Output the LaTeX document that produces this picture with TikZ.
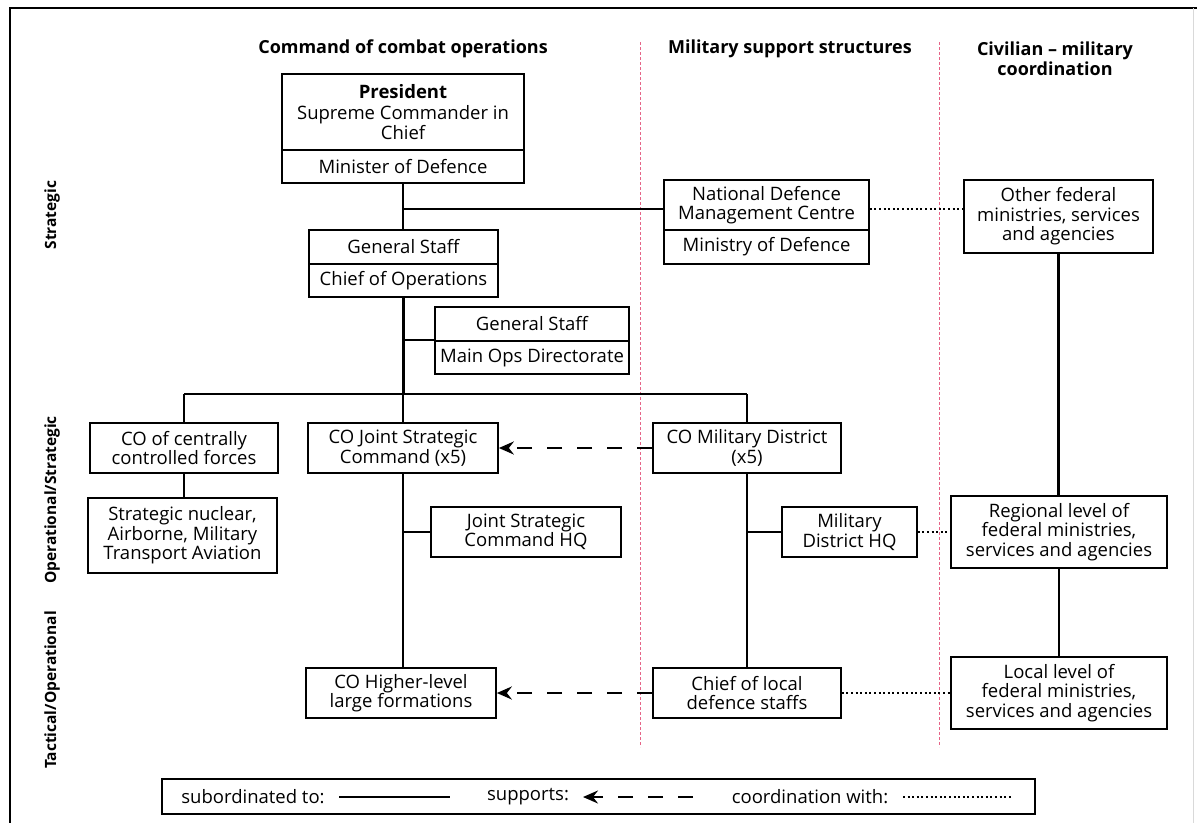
\documentclass[tikz,border=0pt]{standalone}
\usepackage{fontspec}
\setmainfont{Open Sans}
\usetikzlibrary{arrows.meta,calc}
\definecolor{sepcol}{RGB}{230,100,135}
\begin{document}
\begin{tikzpicture}[x=1pt,y=-1pt,
  txt/.style={font=\fontsize{18.5}{19.5}\selectfont, align=center, inner sep=0pt},
  box/.style={txt, draw, line width=1.7pt},
  head/.style={font=\fontsize{18}{19.5}\selectfont\bfseries, align=center, inner sep=0pt},
  lev/.style={font=\fontsize{15.5}{18}\selectfont\bfseries, inner sep=0pt, rotate=90},
  sub/.style={line width=2.6pt},
  sup/.style={line width=2.6pt, dash pattern=on 15pt off 15pt, -{Stealth[length=15pt,width=13pt,inset=5pt]}},
  coordl/.style={line width=2.2pt, dash pattern=on 2pt off 2.6pt},
  sep/.style={draw=sepcol, line width=1.1pt, dash pattern=on 3pt off 2pt},
]
\useasboundingbox (0,0) rectangle (1197,823);
\fill[white] (0,0) rectangle (1197,823);
% frame
\draw[line width=1.4pt] (1197,8) -- (10,8) -- (10,823);
\draw[black!15, line width=1pt] (1193,8) -- (1193,823);
% separators
\draw[sep] (640.5,42) -- (640.5,747);
\draw[sep] (939.5,42) -- (939.5,747);
% headers
\node[head] (h1) at (403,49) {Command of combat operations};
\node[head] (h2) at (790,49) {Military support structures};
\node[head] (h3) at (1055,58.5) {Civilian -- military\\coordination};
% level labels
\node[lev] (l1) at (52,215) {Strategic};
\node[lev] (l2) at (52,500) {Operational/Strategic};
\node[lev] (l3) at (52,690) {Tactical/Operational};
% boxes
\node[box, minimum width=242pt, minimum height=76pt] (pres1) at (403,112) {\textbf{President}\\[2pt]Supreme Commander in\\Chief};
\node[box, minimum width=242pt, minimum height=33pt] (pres2) at (403,166.5) {Minister of Defence};
\node[box, minimum width=189pt, minimum height=34pt] (gs1) at (403.5,247) {General Staff};
\node[box, minimum width=189pt, minimum height=33pt] (gs2) at (403.5,280.5) {Chief of Operations};
\node[box, minimum width=194pt, minimum height=34pt] (mo1) at (532,324) {General Staff};
\node[box, minimum width=194pt, minimum height=33pt] (mo2) at (532,357.5) {Main Ops Directorate};
\node[box, minimum width=205pt, minimum height=50pt] (ndmc1) at (766.5,205) {National Defence\\Management Centre};
\node[box, minimum width=205pt, minimum height=34pt] (ndmc2) at (766.5,247) {Ministry of Defence};
\node[box, minimum width=189pt, minimum height=73pt] (other) at (1058.5,216.5) {Other federal\\ministries, services\\and agencies};
\node[box, minimum width=188pt, minimum height=50pt] (ccf) at (184,448) {CO of centrally\\controlled forces};
\node[box, minimum width=189pt, minimum height=75pt] (snuc) at (182.5,535.5) {Strategic nuclear,\\Airborne, Military\\Transport Aviation};
\node[box, minimum width=190pt, minimum height=50pt] (cojsc) at (403,448) {CO Joint Strategic\\Command (x5)};
\node[box, minimum width=190pt, minimum height=50pt] (jschq) at (526,532) {Joint Strategic\\Command HQ};
\node[box, minimum width=190pt, minimum height=50pt] (cohl) at (401,693) {CO Higher-level\\large formations};
\node[box, minimum width=188pt, minimum height=50pt] (comd) at (747,448) {CO Military District\\(x5)};
\node[box, minimum width=135pt, minimum height=50pt] (mdhq) at (849.5,532) {Military\\District HQ};
\node[box, minimum width=188pt, minimum height=50pt] (chief) at (747,693) {Chief of local\\defence staffs};
\node[box, minimum width=216pt, minimum height=72pt] (regional) at (1059,532) {Regional level of\\federal ministries,\\services and agencies};
\node[box, minimum width=216pt, minimum height=72pt] (local) at (1059,693) {Local level of\\federal ministries,\\services and agencies};
% junctions
\coordinate (j1) at (403,209);
\coordinate (bus) at (403,394);
% connectors
\draw[sub] (pres2.south) -- (pres2.south |- gs1.north);
\draw[sub] (j1) -- (j1 -| ndmc1.west);
\draw[coordl] (j1 -| ndmc1.east) -- (j1 -| other.west);
\draw[sub] (gs2.south) -- (gs2.south |- bus);
\draw[sub] (gs2.south |- mo2.north west) -- (mo2.north west);
\draw[sub] (ccf.north |- bus) -- (comd.north |- bus);
\draw[sub] (ccf.north |- bus) -- (ccf.north);
\draw[sub] (cojsc.north |- bus) -- (cojsc.north);
\draw[sub] (comd.north |- bus) -- (comd.north);
\draw[sub] (ccf.south) -- (ccf.south |- snuc.north);
\draw[sub] (cojsc.south) -- (cojsc.south |- cohl.north);
\draw[sub] (cojsc.south |- jschq.west) -- (jschq.west);
\draw[sub] (comd.south) -- (comd.south |- chief.north);
\draw[sub] (comd.south |- mdhq.west) -- (mdhq.west);
\draw[sup] (comd.west) -- (cojsc.east);
\draw[sup] (chief.west) -- (cohl.east);
\draw[coordl] (mdhq.east) -- (regional.west);
\draw[coordl] (chief.east) -- (local.west);
\draw[sub] (other.south) -- (other.south |- regional.north);
\draw[sub] (regional.south) -- (regional.south |- local.north);
% legend
\node[draw, line width=1.7pt, minimum width=873pt, minimum height=35pt, inner sep=0pt] (legend) at (598.5,796.5) {};
\node[txt] (ls) at (253,797) {subordinated to:};
\node[txt] (lp) at (528,797) {supports:};
\node[txt] (lc) at (810,797) {coordination with:};
\coordinate (a1) at (339,797); \coordinate (a2) at (450,797);
\coordinate (b1) at (693,797); \coordinate (b2) at (583,797);
\coordinate (c1) at (903,797); \coordinate (c2) at (1012,797);
\draw[line width=2pt] (a1) -- (a2);
\draw[sup, line width=2pt] (b1) -- (b2);
\draw[line width=1.6pt, dash pattern=on 2pt off 2.6pt] (c1) -- (c2);
\end{tikzpicture}
\end{document}
